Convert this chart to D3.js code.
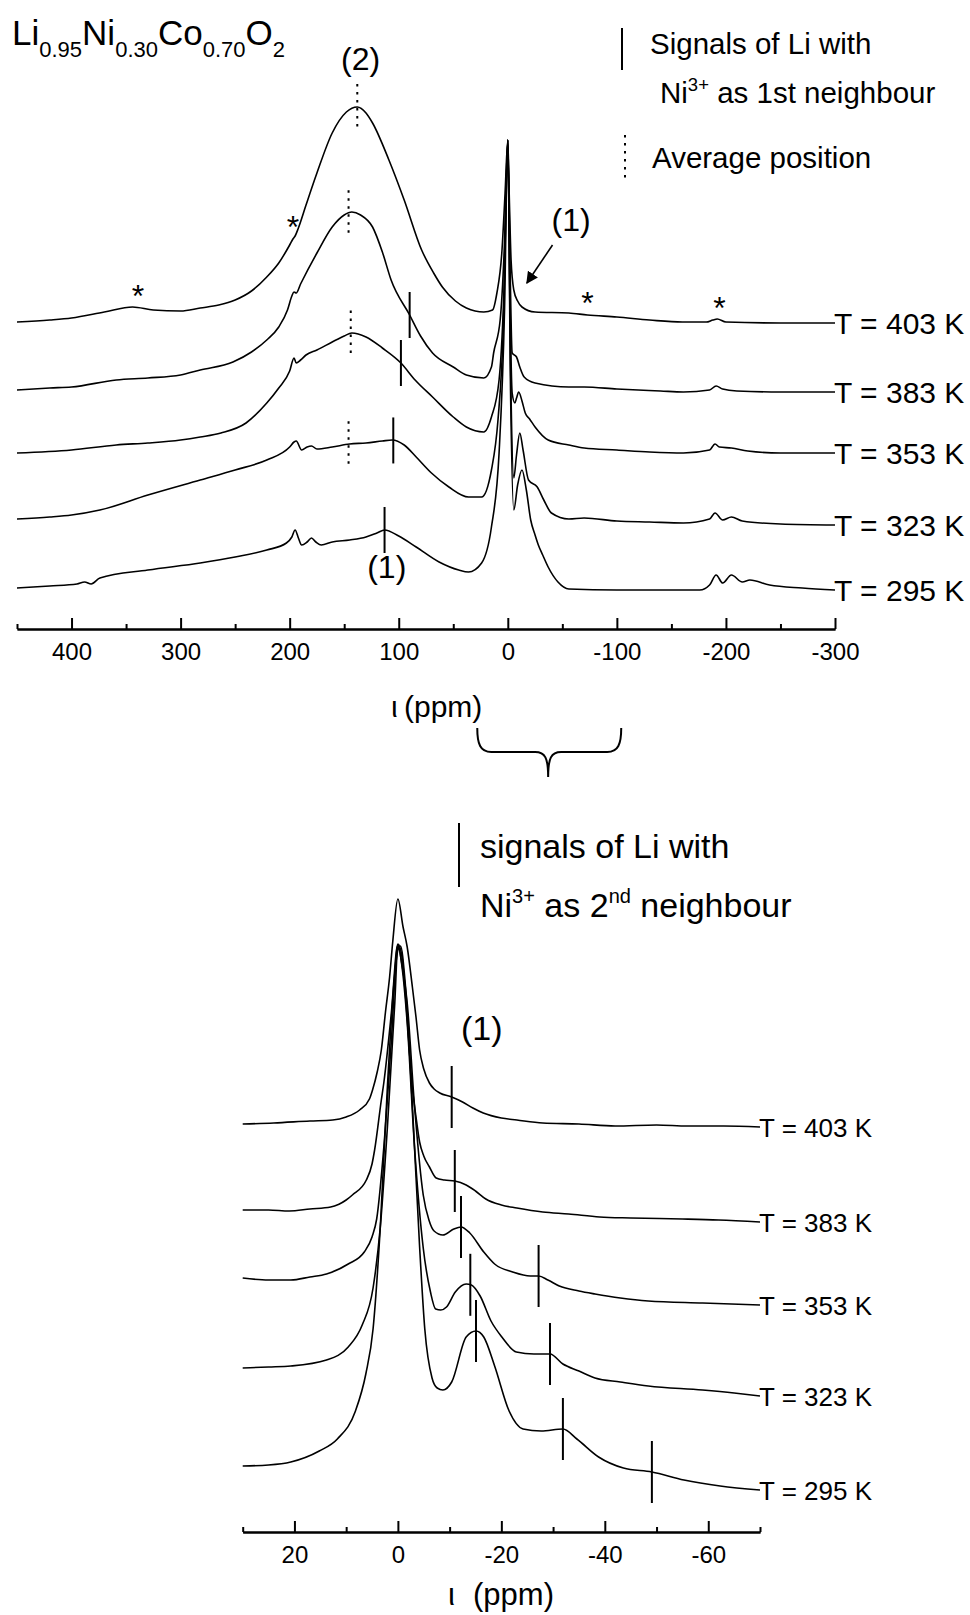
<!DOCTYPE html>
<html><head><meta charset="utf-8">
<script src="https://cdn.jsdelivr.net/npm/d3@7"></script>
<style>
body{margin:0;background:#fff}
svg{display:block}
text{font-family:"Liberation Sans",Arial,sans-serif;fill:#000}
</style>
</head><body>
<svg id="chart" width="970" height="1615"></svg>
<script>
// ---------------- DATA ----------------
const temperatures = ["T = 403 K","T = 383 K","T = 353 K","T = 323 K","T = 295 K"];
// stacking offsets (intensity units) of each spectrum
const topOffsets = [306,237,176,104,39];
const botOffsets = [405,310,227,135,42];

// Top panel spectra: [shift (ppm), intensity]
const top403 = [[450,1],[420,3],[400,5],[370,11],[344,16],[325,13],[300,12],[282,15],[265,18],[250,23],[235,32],[221,46],[210,60],[200,78],[197,84],[195,87],[192,95],[185,118],[175,150],[161,190],[148,211],[138,216],[130,210],[124,200],[109,163],[95,123],[79,73],[68,50],[60,36],[48,22],[38,15],[22,11],[14,13],[10,30],[5.5,70],[2.5,130],[0,183],[-1.5,120],[-3,63],[-5.5,33],[-9,22],[-13,16],[-25,11],[-56,10],[-73,8],[-100,6],[-130,3],[-160,1],[-182,1],[-188,3],[-192,4],[-200,1],[-250,0],[-300,0]];
const top383 = [[450,2],[420,4],[400,5],[359,12],[330,14],[300,17],[282,22],[252,30],[235,40],[221,52],[210,65],[202,82],[198,96],[196,100],[194,99],[190,108],[175,139],[161,165],[150,177],[143,180],[135,177],[124,165],[115,140],[107,112],[90,77],[80,56],[69,39],[50,25],[38,17],[22,14],[15,25],[13,39],[7,72],[3,150],[0,252],[-2,130],[-4,39],[-8,35],[-11,25],[-15,15],[-25,9],[-56,5],[-70,5],[-100,3],[-140,1],[-161,0],[-185,2],[-191,6],[-197,3],[-210,1],[-250,0],[-300,0]];
const top353 = [[450,0],[400,3],[359,8],[330,10],[300,13],[282,16],[263,20],[240,30],[221,50],[210,65],[200,82],[196,95],[194,90],[190,93],[185,98],[175,103],[161,111],[150,117],[143,120],[130,116],[115,105],[98,90],[85,73],[69,56],[50,36],[38,26],[22,21],[15,36],[8,73],[3,180],[0,313],[-2,150],[-4,60],[-6.5,50],[-8,55],[-10,61],[-13,52],[-16,40],[-20,34],[-25,26],[-37,13],[-56,8],[-70,5],[-100,3],[-130,1],[-161,0],[-185,3],[-190,9],[-194,6],[-205,5],[-220,2],[-250,0],[-300,0]];
const top323 = [[450,6],[420,8],[400,10],[374,15],[330,30],[282,45],[250,55],[221,65],[200,78],[196,83],[194,84],[189,75],[184,78],[180,79],[175,76],[161,78],[145,81],[130,82],[115,84],[106,85],[95,80],[84,68],[70,52],[54,38],[36,28],[24,28],[15,55],[9,105],[4,200],[0,385],[-2.5,160],[-5.5,47],[-8,70],[-11,92],[-14,75],[-19,45],[-27,38],[-33,25],[-40,12],[-56,6],[-70,7],[-100,4],[-130,3],[-161,2],[-185,6],[-190,12],[-197,5],[-205,8],[-215,4],[-250,1],[-300,0]];
const top295 = [[450,2],[420,4],[395,6],[388,8],[382,6],[374,12],[330,20],[282,27],[250,33],[221,40],[203,47],[198,53],[195,60],[192,52],[189,45],[184,48],[180,52],[176,48],[171,45],[161,48],[145,50],[130,53],[120,57],[113,60],[100,54],[84,43],[63,28],[45,20],[36,18],[24,27],[15,63],[8,137],[3,280],[0,450],[-2.5,200],[-5.5,80],[-9,105],[-13,120],[-17,100],[-21,70],[-25,55],[-28,45],[-32,35],[-37,23],[-46,8],[-56,1],[-100,0],[-176,0],[-185,5],[-191,15],[-197,7],[-205,15],[-215,8],[-222,10],[-240,5],[-270,2],[-300,0]];

// Bottom panel (expanded) spectra
const bot403 = [[30,3],[24,4],[17,6],[12.6,7],[10,10],[7.4,17],[5.5,28],[4.9,37],[4,55],[3.2,77],[2.4,115],[1.6,150],[1,185],[0,228],[-1,200],[-1.8,180],[-2.8,140],[-3.5,110],[-4.2,77],[-5,58],[-6.1,44],[-7,38],[-8.1,34],[-10.4,30],[-12.5,25],[-14.5,19],[-16.5,14],[-20,9],[-23,7],[-28,4],[-35,3],[-42,1],[-50,2],[-56,1],[-63,1],[-70,0]];
const bot383 = [[30,12],[25,12],[21,11],[17,13],[13,15],[10,22],[8.8,27],[6.1,42],[5,58],[4.5,72],[3.2,122],[2.7,140],[1.3,207],[0,278],[-0.8,265],[-1.4,231],[-2.8,134],[-3.5,105],[-4.2,80],[-5,66],[-6.1,55],[-7.4,44],[-9,42],[-11,41],[-13.2,37],[-15,31],[-17,23],[-20,17],[-23,14],[-28,10],[-33,8],[-39,5],[-45,4],[-55,3],[-62,2],[-70,0]];
const bot353 = [[30,27],[25,25],[20.7,25],[17,28],[13.8,31],[9.6,41],[6.5,53],[5,68],[4.1,86],[2.7,159],[1.3,261],[0,360],[-0.8,340],[-1.8,302],[-3.2,200],[-4.9,110],[-6,85],[-7,74],[-8.7,70],[-10.8,76],[-12.2,78],[-13.9,72],[-16.6,53],[-18.7,41],[-22.2,33],[-25.6,29],[-27.2,29],[-29,25],[-31.2,19],[-35,14],[-38.1,11],[-43,7],[-48.4,4],[-58.9,2],[-70,0]];
const bot323 = [[30,29],[25,30],[20.7,31],[13.8,37],[9.6,50],[6.9,72],[4.8,109],[3.4,170],[2,272],[0.6,394],[0,452],[-0.8,430],[-1.8,374],[-3.2,251],[-4.9,149],[-6.3,105],[-7.3,88],[-8.3,87],[-9.4,90],[-11.1,105],[-13.2,113],[-14.2,112],[-15.9,101],[-18,76],[-20.1,60],[-22.9,45],[-26.3,43],[-29.4,43],[-31.9,33],[-35,26],[-38.1,19],[-43,15],[-48.4,11],[-58.9,7],[-65,4],[-70,1]];
const bot295 = [[30,24],[25,25],[20.7,28],[15.2,39],[11.7,51],[8.2,79],[6.2,116],[4.8,161],[3.4,263],[2,406],[0.6,516],[0,540],[-0.5,544],[-1.4,508],[-2.8,385],[-4.2,243],[-5.2,161],[-6.6,112],[-7.6,102],[-8.7,100],[-10.4,108],[-13.2,153],[-15.1,159],[-16.6,153],[-18.7,124],[-21.5,79],[-24.2,61],[-27.7,59],[-31.9,61],[-34.6,51],[-38.8,33],[-43.6,22],[-49.1,18],[-55.3,10],[-62.3,4],[-70,0]];

const topSeries = [top403, top383, top353, top323, top295];
const botSeries = [bot403, bot383, bot353, bot323, bot295];

// markers: spectrum index + shift
const topSolidMarks  = [[1,90],[2,98],[3,105],[4,113]];
const topDottedMarks = [[0,138],[1,146],[2,144],[3,146]];
const topStars = [339,197,-73,-194];          // spinning side bands on 403 K trace
const botSolidMarks = [[0,-10.4],[1,-11],[2,-12.2],[2,-27.2],[3,-14],[3,-29.4],[4,-15.1],[4,-31.9],[4,-49.1]];

const topMajorTicks = [400,300,200,100,0,-100,-200,-300];
const topMinorTicks = [450,350,250,150,50,-50,-150,-250];
const botMajorTicks = [20,0,-20,-40,-60];
const botMinorTicks = [30,10,-10,-30,-50,-70];

// ---------------- DRAW ----------------
const svg = d3.select("#chart");
svg.append("rect").attr("width",970).attr("height",1615).attr("fill","#fff");

const xTop = d3.scaleLinear().domain([450,-300]).range([17,835]);
const yTop = d3.scaleLinear().domain([0,500]).range([629,129]);
const xBot = d3.scaleLinear().domain([30,-70]).range([242.7,760]);
const yBot = d3.scaleLinear().domain([0,700]).range([1532,832]);

function hAt(s,p){
  for(let i=0;i<s.length-1;i++){
    const a=s[i], b=s[i+1];
    if(a[0]>=p && b[0]<=p){ const t=(a[0]-p)/(a[0]-b[0]); return a[1]+t*(b[1]-a[1]); }
  }
  return s[s.length-1][1];
}

function drawPanel(series, offsets, xs, ys, labelSize, labelDy){
  const g = svg.append("g");
  series.forEach((s,i)=>{
    const line = d3.line().x(d=>xs(d[0])).y(d=>ys(offsets[i]+d[1])).curve(d3.curveMonotoneX);
    g.append("path").datum(s).attr("d",line).attr("fill","none").attr("stroke","#000").attr("stroke-width",1.6).attr("stroke-linejoin","round");
    const last = s[s.length-1];
    g.append("text").attr("x",xs(last[0])-1).attr("y",ys(offsets[i]+last[1])+labelDy)
      .attr("font-size",labelSize).text(temperatures[i]);
  });
  return g;
}
drawPanel(topSeries, topOffsets, xTop, yTop, 30, 11);
drawPanel(botSeries, botOffsets, xBot, yBot, 26, 10);

// top markers
topSolidMarks.forEach(([i,p])=>{
  const yc = yTop(topOffsets[i]+hAt(topSeries[i],p));
  svg.append("line").attr("x1",xTop(p)).attr("x2",xTop(p)).attr("y1",yc-23).attr("y2",yc+23)
    .attr("stroke","#000").attr("stroke-width",2);
});
topDottedMarks.forEach(([i,p])=>{
  const yc = yTop(topOffsets[i]+hAt(topSeries[i],p));
  svg.append("line").attr("x1",xTop(p)).attr("x2",xTop(p)).attr("y1",yc-23).attr("y2",yc+23)
    .attr("stroke","#000").attr("stroke-width",2).attr("stroke-dasharray","2.5,5.5");
});
topStars.forEach(p=>{
  const yc = yTop(topOffsets[0]+hAt(topSeries[0],p));
  svg.append("text").attr("x",xTop(p)).attr("y",yc-1).attr("text-anchor","middle").attr("font-size",32).text("*");
});
botSolidMarks.forEach(([i,p])=>{
  const yc = yBot(botOffsets[i]+hAt(botSeries[i],p));
  svg.append("line").attr("x1",xBot(p)).attr("x2",xBot(p)).attr("y1",yc-31).attr("y2",yc+31)
    .attr("stroke","#000").attr("stroke-width",2);
});

// axes
function drawAxis(xs, y, major, minor, labelSize){
  const gMin = svg.append("g").attr("transform",`translate(0,${y})`)
    .call(d3.axisBottom(xs).tickValues(minor).tickSize(-5).tickSizeOuter(0).tickFormat(""));
  const gMaj = svg.append("g").attr("transform",`translate(0,${y})`)
    .call(d3.axisBottom(xs).tickValues(major).tickSize(-11).tickSizeOuter(0).tickPadding(14).tickFormat(d=>String(d)));
  [gMin,gMaj].forEach(g=>{
    g.selectAll("path.domain").attr("stroke","#000").attr("stroke-width",2);
    g.selectAll(".tick line").attr("stroke","#000").attr("stroke-width",2);
  });
  gMaj.selectAll("text").attr("font-size",labelSize).attr("font-family","Liberation Sans, Arial, sans-serif").attr("fill","#000");
}
drawAxis(xTop, 629, topMajorTicks, topMinorTicks, 24);
drawAxis(xBot, 1532, botMajorTicks, botMinorTicks, 24);

// axis titles
function axisTitle(x1, x2, y, size){
  const t = svg.append("text").attr("y",y).attr("font-size",size);
  t.append("tspan").attr("x",x1).text("ι");
  t.append("tspan").attr("x",x2).text("(ppm)");
}
axisTitle(391, 404, 717, 30);
axisTitle(448, 473, 1605, 31);

// brace linking the panels
{
  const a = xTop(28), b = xTop(-104), m = xTop(-37);
  const y0 = 728, y1 = 752, y2 = 777;
  const d = `M${a},${y0} C${a},${y1-8} ${a+3},${y1} ${a+14},${y1} L${m-13},${y1} C${m-3},${y1} ${m},${y1+6} ${m},${y2} `+
            `C${m},${y1+6} ${m+3},${y1} ${m+13},${y1} L${b-14},${y1} C${b-3},${y1} ${b},${y1-8} ${b},${y0}`;
  svg.append("path").attr("d",d).attr("fill","none").attr("stroke","#000").attr("stroke-width",2);
}

// title formula
{
  const t = svg.append("text").attr("x",12).attr("y",45).attr("font-size",35);
  const parts = [["Li",0],["0.95",1],["Ni",0],["0.30",1],["Co",0],["0.70",1],["O",0],["2",1]];
  let sub = 0;
  parts.forEach(([s,isSub])=>{
    const ts = t.append("tspan").text(s).attr("font-size", isSub?22:35);
    const dy = (isSub?12:0) - sub; sub = isSub?12:0;
    if(dy) ts.attr("dy",dy);
  });
}

// peak labels
svg.append("text").attr("x",xTop(135)).attr("y",70).attr("text-anchor","middle").attr("font-size",32).text("(2)");
svg.append("text").attr("x",xTop(-58)).attr("y",231).attr("text-anchor","middle").attr("font-size",32).text("(1)");
svg.append("text").attr("x",xTop(111)).attr("y",578).attr("text-anchor","middle").attr("font-size",32).text("(1)");
svg.append("text").attr("x",xBot(-16.2)).attr("y",1040).attr("text-anchor","middle").attr("font-size",34).text("(1)");

// arrow to (1)
svg.append("defs").append("marker").attr("id","ah").attr("viewBox","0 0 10 10").attr("refX",9).attr("refY",5)
  .attr("markerWidth",12).attr("markerHeight",12).attr("markerUnits","userSpaceOnUse").attr("orient","auto")
  .append("path").attr("d","M0,0 L10,5 L0,10 z").attr("fill","#000");
svg.append("line").attr("x1",xTop(-41)).attr("y1",245).attr("x2",xTop(-17.5)).attr("y2",283)
  .attr("stroke","#000").attr("stroke-width",1.6).attr("marker-end","url(#ah)");

// legend top
svg.append("line").attr("x1",622).attr("x2",622).attr("y1",28).attr("y2",70).attr("stroke","#000").attr("stroke-width",2);
svg.append("text").attr("x",650).attr("y",54).attr("font-size",29.5).text("Signals of Li with");
{
  const t = svg.append("text").attr("x",660).attr("y",103).attr("font-size",29.5);
  t.append("tspan").text("Ni");
  t.append("tspan").attr("font-size",18.5).attr("dy",-12).text("3+");
  t.append("tspan").attr("dy",12).text(" as 1st neighbour");
}
svg.append("line").attr("x1",625).attr("x2",625).attr("y1",135).attr("y2",178).attr("stroke","#000").attr("stroke-width",2).attr("stroke-dasharray","2.5,5.5");
svg.append("text").attr("x",652).attr("y",168).attr("font-size",29.5).text("Average position");

// legend bottom
svg.append("line").attr("x1",459).attr("x2",459).attr("y1",823).attr("y2",887).attr("stroke","#000").attr("stroke-width",2);
svg.append("text").attr("x",480).attr("y",858).attr("font-size",34).text("signals of Li with");
{
  const t = svg.append("text").attr("x",480).attr("y",917).attr("font-size",34);
  t.append("tspan").text("Ni");
  t.append("tspan").attr("font-size",20).attr("dy",-14).text("3+");
  t.append("tspan").attr("dy",14).text(" as 2");
  t.append("tspan").attr("font-size",20).attr("dy",-14).text("nd");
  t.append("tspan").attr("dy",14).text(" neighbour");
}
</script>
</body></html>
